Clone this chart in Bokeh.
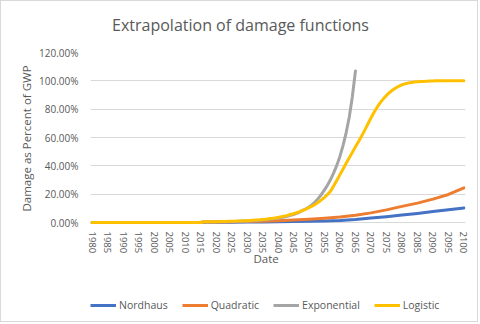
from bokeh.plotting import figure
from bokeh.models import Legend, LegendItem, Title, Label, FixedTicker, PrintfTickFormatter, Range1d
from bokeh.layouts import column
from bokeh.embed import file_html
from bokeh.resources import INLINE

# ---------------- data ----------------
title_text = "Extrapolation of damage functions"
x_axis_title = "Date"
y_axis_title = "Damage as Percent of GWP"
series_names = ["Nordhaus", "Quadratic", "Exponential", "Logistic"]
x_tick_years = list(range(1980, 2101, 5))
y_ticks_pct = [0, 20, 40, 60, 80, 100, 120]

nordhaus_years = [1980, 2015, 2016, 2020, 2025, 2030, 2035, 2040, 2045, 2050,
                  2055, 2060, 2065, 2070, 2075, 2080, 2085, 2090, 2095, 2100]
nordhaus_pct = [0, 0, 0.10, 0.15, 0.20, 0.30, 0.40, 0.55, 0.70, 0.90,
                1.10, 1.40, 2.10, 3.10, 4.10, 5.30, 6.40, 7.70, 9.00, 10.30]

quadratic_years = [1980, 2015, 2016, 2020, 2025, 2030, 2035, 2040, 2045, 2050,
                   2055, 2060, 2065, 2070, 2075, 2080, 2085, 2090, 2095, 2100]
quadratic_pct = [0, 0, 0.30, 0.40, 0.50, 0.70, 0.90, 1.20, 1.70, 2.30,
                 3.00, 3.90, 5.10, 6.80, 8.90, 11.40, 13.70, 16.50, 19.80, 24.50]

exponential_years = [1980, 2015] + list(range(2016, 2066))
exponential_pct = [0, 0,
                   0.30, 0.30, 0.35, 0.40, 0.45, 0.50, 0.55, 0.60, 0.65, 0.70,
                   0.75, 0.80, 0.90, 1.00, 1.10, 1.20, 1.30, 1.45, 1.60, 1.80,
                   2.00, 2.20, 2.50, 2.80, 3.10, 3.50, 3.90, 4.40, 5.00, 5.60,
                   6.40, 7.40, 8.60, 9.70, 11.00, 12.60, 14.60, 17.00, 19.80, 23.00,
                   26.50, 30.50, 35.20, 40.50, 46.80, 54.50, 63.50, 74.50, 89.00, 107.00]

logistic_years = [1980, 2015] + list(range(2016, 2101))
logistic_pct = [0, 0,
                0.50, 0.50, 0.55, 0.60, 0.60, 0.65, 0.70, 0.75, 0.80, 0.85,
                0.90, 1.00, 1.10, 1.20, 1.30, 1.45, 1.60, 1.75, 1.90, 2.10,
                2.30, 2.60, 2.90, 3.20, 3.60, 4.00, 4.50, 5.00, 5.60, 6.20,
                6.90, 7.70, 8.60, 9.50, 10.50, 11.50, 12.80, 14.30, 16.00, 17.80,
                19.80, 22.30, 26.00, 29.80, 33.80, 37.80, 41.80, 45.70, 49.60, 53.40,
                57.20, 61.10, 65.20, 69.50, 73.80, 77.80, 81.40, 84.60, 87.30, 89.70,
                91.80, 93.50, 95.00, 96.20, 97.20, 97.90, 98.40, 98.80, 99.10, 99.30,
                99.50, 99.60, 99.70, 99.80, 99.90, 100, 100, 100, 100, 100,
                100, 100, 100, 100, 100]

colors = ["#4472C4", "#ED7D31", "#A5A5A5", "#FFC000"]

all_years = [nordhaus_years, quadratic_years, exponential_years, logistic_years]
all_vals = [nordhaus_pct, quadratic_pct, exponential_pct, logistic_pct]

FONT = "Open Sans"
TXT = "#595959"
BORDER = "1px solid #D9D9D9"


def strip(height, sides):
    f = figure(width=478, height=height, output_backend="svg", toolbar_location=None,
               x_range=Range1d(0, 1), y_range=Range1d(0, 1), min_border=0)
    f.styles = {f"border-{s}": BORDER for s in sides}
    f.axis.visible = False
    f.grid.visible = False
    f.outline_line_color = None
    f.background_fill_color = "white"
    f.border_fill_color = "white"
    return f


# ---------------- title strip ----------------
top = strip(40, ["top", "left", "right"])
top.add_layout(Label(x=0.4, y=0.41, text=title_text, text_align="center",
                     text_baseline="middle", text_font=FONT, text_font_size="16px",
                     text_color=TXT))

# ---------------- main figure ----------------
# small pad below zero so that lines lying on 0 are not cut by the frame edge
p = figure(width=478, height=249, output_backend="svg", toolbar_location=None,
           x_range=Range1d(1979.5, 2100.5), y_range=Range1d(-1.41, 120),
           min_border_left=89, min_border_right=14, min_border_top=12,
           min_border_bottom=65)
p.styles = {"border-left": BORDER, "border-right": BORDER}
p.outline_line_color = None
p.background_fill_color = "white"
p.border_fill_color = "white"

p.xgrid.visible = False
p.ygrid.grid_line_color = "#D9D9D9"
p.ygrid.grid_line_width = 1

p.xaxis.ticker = FixedTicker(ticks=x_tick_years)
p.xaxis.major_label_orientation = "vertical"
p.xaxis.major_tick_line_color = None
p.xaxis.minor_tick_line_color = None
p.xaxis.major_tick_out = 0
p.xaxis.major_tick_in = 0
p.xaxis.axis_line_color = None
p.xaxis.major_label_standoff = 7
p.xaxis.major_label_text_font = FONT
p.xaxis.major_label_text_font_size = "9.5px"
p.xaxis.major_label_text_color = TXT

p.yaxis.ticker = FixedTicker(ticks=y_ticks_pct)
p.yaxis.formatter = PrintfTickFormatter(format="%.2f%%")
p.yaxis.axis_line_color = None
p.yaxis.major_tick_line_color = None
p.yaxis.minor_tick_line_color = None
p.yaxis.major_tick_out = 0
p.yaxis.major_tick_in = 0
p.yaxis.major_label_standoff = 12
p.yaxis.major_label_text_font = FONT
p.yaxis.major_label_text_font_size = "10px"
p.yaxis.major_label_text_color = TXT
p.yaxis.axis_label = y_axis_title
p.yaxis.axis_label_text_font = FONT
p.yaxis.axis_label_text_font_size = "11.5px"
p.yaxis.axis_label_text_font_style = "normal"
p.yaxis.axis_label_text_color = TXT
p.yaxis.axis_label_standoff = 2

for xs, ys, c in zip(all_years, all_vals, colors):
    p.line(xs, ys, line_color=c, line_width=3, line_join="round", line_cap="round")

date_title = Title(text=x_axis_title, align="left", offset=163, standoff=-16,
                   text_font=FONT, text_font_size="11.5px", text_font_style="normal",
                   text_color=TXT)
p.add_layout(date_title, "below")

# ---------------- legend strip ----------------
lg = strip(33, ["bottom", "left", "right"])
key_renderers = [lg.line(xs, ys, line_color=c, line_width=3)
                 for xs, ys, c in zip(all_years, all_vals, colors)]

legend = Legend(items=[LegendItem(label=n, renderers=[r]) for n, r in zip(series_names, key_renderers)],
                orientation="horizontal", location=(0, 10))
legend.glyph_width = 26
legend.glyph_height = 12
legend.label_height = 12
legend.label_standoff = 3
legend.spacing = 14
legend.padding = 0
legend.margin = 0
legend.border_line_color = None
legend.background_fill_alpha = 0
legend.label_text_font = FONT
legend.label_text_font_size = "10.5px"
legend.label_text_color = TXT
lg.add_layout(legend, "center")

layout = column(top, p, lg, spacing=0)
open("out.html", "w").write(file_html(layout, INLINE))
